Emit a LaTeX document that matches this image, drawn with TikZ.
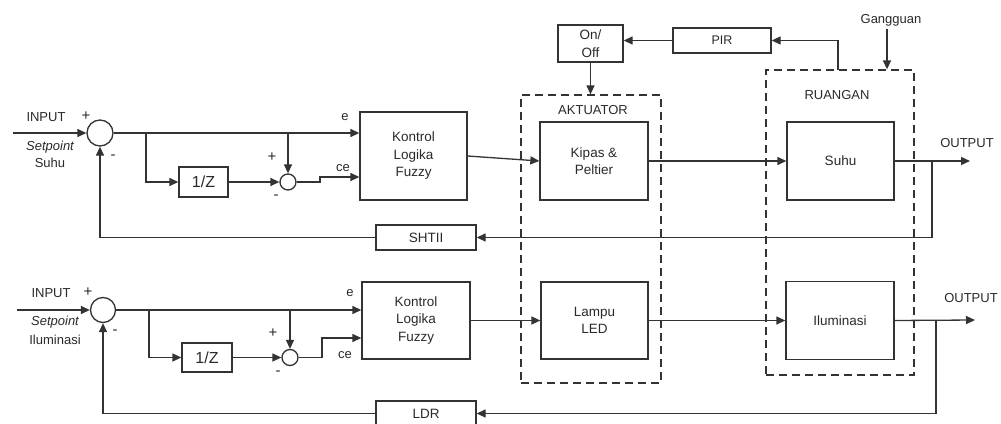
\documentclass[tikz,border=0pt]{standalone}
\usepackage{fontspec}
\setmainfont{Liberation Sans}
\usetikzlibrary{arrows.meta}
\definecolor{lc}{HTML}{333333}
\definecolor{tc}{HTML}{2A2A2A}
\begin{document}
\begin{tikzpicture}[x=1pt,y=-1pt,
  every node/.style={text=tc, font=\fontsize{13.5}{17.5}\selectfont, inner sep=0pt},
  blk/.style={draw=lc, line width=1.3pt, align=center, fill=white},
  sumc/.style={draw=lc, line width=1.3pt, circle, fill=white},
  dbox/.style={draw=lc, line width=1.3pt, dash pattern=on 8pt off 5pt},
  ln/.style={draw=lc, line width=1.3pt},
  arr/.style={ln, -{Triangle[length=9pt,width=8pt]}},
  lbl/.style={font=\fontsize{13}{14}\selectfont},
  pm/.style={font=\fontsize{15}{14}\selectfont}
]
\useasboundingbox[fill=white] (0,0) rectangle (1001,423);

% dashed groups
\node[dbox, minimum width=140, minimum height=288] (akt) at (591,239) {};
\node[dbox, minimum width=148, minimum height=305] (ruang) at (840,222.5) {};
\node[lbl] (aktl) at (593,110) {AKTUATOR};
\node[lbl] (ruangl) at (837,95) {RUANGAN};

% upper row
\node[sumc, minimum size=26] (s1) at (100,133) {};
\node[blk, minimum width=49, minimum height=30, font=\fontsize{16}{17}\selectfont] (z1) at (203.5,182) {1/Z};
\node[sumc, minimum size=16] (d1) at (288,182) {};
\node[blk, minimum width=107, minimum height=88] (fz1) at (413.5,156) {Kontrol\\Logika\\Fuzzy};
\node[blk, minimum width=108, minimum height=78] (kip) at (594,161) {Kipas \&\\Peltier};
\node[blk, minimum width=107, minimum height=78] (suhu) at (840.5,161) {Suhu};
\node[blk, minimum width=65, minimum height=37] (onoff) at (590.5,43.5) {On/\\Off};
\node[blk, minimum width=98, minimum height=25, font=\fontsize{12.5}{14}\selectfont] (pir) at (722,40.5) {PIR};
\node[blk, minimum width=100, minimum height=25] (shtii) at (426,237.5) {SHTII};

% lower row
\node[sumc, minimum size=25] (s2) at (103,310) {};
\node[blk, minimum width=50, minimum height=29, font=\fontsize{16}{17}\selectfont] (z2) at (207,357.5) {1/Z};
\node[sumc, minimum size=16] (d2) at (290,357.5) {};
\node[blk, minimum width=108, minimum height=77] (fz2) at (416,320.5) {Kontrol\\Logika\\Fuzzy};
\node[blk, minimum width=107, minimum height=77] (lampu) at (594.5,320.5) {Lampu\\LED};
\node[blk, minimum width=108, minimum height=78] (ilum) at (840,320.5) {Iluminasi};
\node[blk, minimum width=100, minimum height=25] (ldr) at (426,413.5) {LDR};

% text labels upper
\node[lbl] (in1l) at (46,117) {INPUT};
\node[pm] (p1) at (86,116) {+};
\node[lbl] (sp1) at (50,147) {\itshape Setpoint};
\node[lbl] (sh1) at (50,163) {Suhu};
\node[pm] (m1) at (113,157) {-};
\node[lbl] (e1) at (345,117) {e};
\node[lbl] (ce1) at (343,168) {ce};
\node[pm] (p1b) at (272,157) {+};
\node[pm] (m1b) at (276,197) {-};
\node[lbl] (out1l) at (967,143) {OUTPUT};
\node[lbl] (gang) at (891,20) {Gangguan};

% text labels lower
\node[lbl] (in2l) at (51,293) {INPUT};
\node[pm] (p2) at (88,292) {+};
\node[lbl] (sp2) at (55,322) {\itshape Setpoint};
\node[lbl] (il2) at (55,340) {Iluminasi};
\node[pm] (m2) at (115,332) {-};
\node[lbl] (e2) at (350,293) {e};
\node[lbl] (ce2) at (345,355) {ce};
\node[pm] (p2b) at (273,333) {+};
\node[pm] (m2b) at (278,373) {-};
\node[lbl] (out2l) at (971,298) {OUTPUT};

% coordinates
\coordinate (in1) at (13,133);
\coordinate (b1) at (146,133);
\coordinate (c1) at (320,177);
\coordinate (o1e) at (970,161);
\coordinate (o1) at (932,161);
\coordinate (pb) at (838,70);
\coordinate (gt) at (887,29);
\coordinate (in2) at (17,310);
\coordinate (b2) at (149,310);
\coordinate (c2) at (322,338);
\coordinate (o2e) at (975,320);
\coordinate (o2) at (936,320);

% upper connectors
\draw[arr] (in1) -- (s1.west);
\draw[arr] (s1.east) -- (fz1.west |- s1.east);
\draw[arr] (b1) |- (z1.west);
\draw[arr] (z1.east) -- (d1.west);
\draw[arr] (d1 |- s1) -- (d1.north);
\draw[arr] (d1.east) -| (c1) -- (fz1.west |- c1);
\draw[arr] (fz1.east) -- (kip.west);
\draw[arr] (kip.east) -- (suhu.west);
\draw[arr] (suhu.east) -- (o1e);
\draw[arr] (o1) |- (shtii.east);
\draw[arr] (shtii.west) -| (s1.south);
\draw[arr] (pb) |- (pir.east);
\draw[arr] (pir.west) -- (onoff.east |- pir.west);
\draw[arr] (onoff.south) -- (onoff.south |- akt.north);
\draw[arr] (gt) -- (gt |- ruang.north);

% lower connectors
\draw[arr] (in2) -- (s2.west);
\draw[arr] (s2.east) -- (fz2.west |- s2.east);
\draw[arr] (b2) |- (z2.west);
\draw[arr] (z2.east) -- (d2.west);
\draw[arr] (d2 |- s2) -- (d2.north);
\draw[arr] (d2.east) -| (c2) -- (fz2.west |- c2);
\draw[arr] (fz2.east) -- (lampu.west);
\draw[arr] (lampu.east) -- (ilum.west);
\draw[arr] (ilum.east) -- (o2e);
\draw[arr] (o2) |- (ldr.east);
\draw[arr] (ldr.west) -| (s2.south);
\end{tikzpicture}
\end{document}
